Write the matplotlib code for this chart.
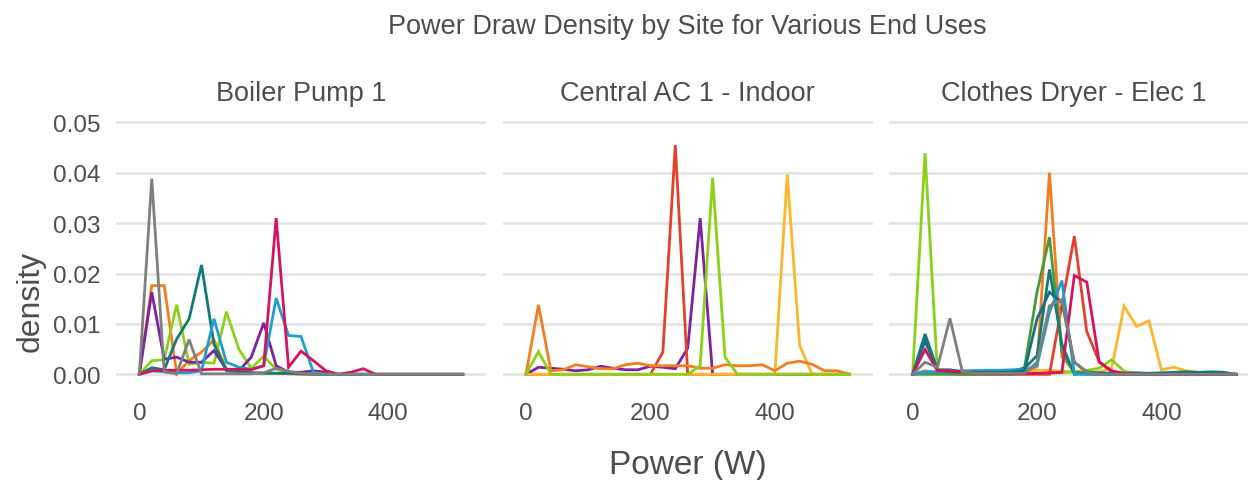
import numpy as np
import matplotlib
matplotlib.use("Agg")
import matplotlib.pyplot as plt

plt.rcParams['font.family'] = ['Liberation Sans', 'DejaVu Sans']

# power bins (W)
power = list(range(0, 540, 20))

# --- Boiler Pump 1 ---
bp_orange = [0, 0.0176, 0.0176, 0.0001, 0.0027, 0.0044, 0.0068, 0.0010, 0.0005, 0.0003, 0.0003, 0.0002, 0.0001, 0,
             0, 0, 0, 0, 0, 0, 0, 0, 0, 0, 0, 0, 0]
bp_lime = [0, 0.0027, 0.0029, 0.0138, 0.0020, 0.0024, 0.0022, 0.0124, 0.0050, 0.0012, 0.0036, 0.0010, 0.0004, 0.0001,
           0, 0, 0, 0, 0, 0, 0, 0, 0, 0, 0, 0, 0]
bp_purple = [0, 0.0163, 0.0030, 0.0034, 0.0024, 0.0024, 0.0047, 0.0010, 0.0007, 0.0034, 0.0102, 0.0017, 0.0004,
             0.0004, 0.0007, 0.0004, 0, 0, 0, 0, 0, 0, 0, 0, 0, 0, 0]
bp_teal = [0, 0.0013, 0.0009, 0.0070, 0.0110, 0.0217, 0.0060, 0.0007, 0.0005, 0.0003, 0.0002, 0.0002, 0.0002, 0.0001,
           0, 0, 0, 0, 0, 0, 0, 0, 0, 0, 0, 0, 0]
bp_blue = [0, 0.0007, 0.0005, 0.0003, 0.0003, 0.0007, 0.0110, 0.0024, 0.0014, 0.0010, 0.0017, 0.0151, 0.0077, 0.0075,
           0.0004, 0, 0, 0, 0, 0, 0, 0, 0, 0, 0, 0, 0]
bp_crimson = [0, 0.0007, 0.0008, 0.0008, 0.0008, 0.0009, 0.0010, 0.0010, 0.0010, 0.0009, 0.0017, 0.0310, 0.0014,
              0.0046, 0.0027, 0.0007, 0, 0.0004, 0.0011, 0, 0, 0, 0, 0, 0, 0, 0]
bp_gray = [0, 0.0388, 0.0005, 0.0001, 0.0069, 0.0001, 0.0001, 0.0001, 0.0001, 0.0001, 0.0003, 0.0012, 0.0006, 0.0002,
           0.0001, 0.0001, 0, 0, 0, 0, 0, 0, 0, 0, 0, 0, 0]

# --- Central AC 1 - Indoor ---
ac_purple = [0, 0.0014, 0.0012, 0.0010, 0.0007, 0.0009, 0.0016, 0.0012, 0.0009, 0.0009, 0.0016, 0.0014, 0.0011,
             0.0052, 0.0310, 0, 0, 0, 0, 0, 0, 0, 0, 0, 0, 0, 0]
ac_red = [0, 0, 0, 0, 0, 0, 0, 0, 0, 0, 0, 0.0044, 0.0455, 0, 0, 0, 0, 0, 0, 0, 0, 0, 0, 0, 0, 0, 0]
ac_amber = [0, 0, 0, 0, 0, 0, 0, 0, 0, 0, 0, 0, 0, 0, 0, 0, 0, 0, 0, 0, 0, 0.0396, 0.0057, 0, 0, 0, 0]
ac_orange = [0, 0.0138, 0.0007, 0.0009, 0.0019, 0.0015, 0.0011, 0.0011, 0.0019, 0.0022, 0.0017, 0.0017, 0.0017,
             0.0017, 0.0012, 0.0012, 0.0019, 0.0017, 0.0017, 0.0019, 0.0007, 0.0022, 0.0026, 0.0020, 0.0007,
             0.0007, 0]
ac_green = [0, 0.0045, 0, 0, 0, 0, 0, 0, 0, 0, 0, 0, 0, 0, 0.0017, 0.0390, 0.0034, 0, 0, 0, 0, 0, 0, 0, 0, 0, 0]

# --- Clothes Dryer - Elec 1 ---
cd_amber = [0, 0.0004, 0.0004, 0.0003, 0.0004, 0.0004, 0.0006, 0.0007, 0.0008, 0.0006, 0.0008, 0.0008, 0.0006,
            0.0005, 0.0004, 0.0005, 0.0012, 0.0135, 0.0095, 0.0106, 0.0009, 0.0014, 0.0007, 0.0003, 0.0002,
            0.0001, 0]
cd_lime = [0, 0.0439, 0.0003, 0.0002, 0.0002, 0.0002, 0.0002, 0.0002, 0.0002, 0.0002, 0.0002, 0.0002, 0.0003,
           0.0005, 0.0008, 0.0012, 0.0029, 0.0006, 0.0002, 0, 0, 0, 0, 0, 0, 0, 0]
cd_red = [0, 0.0003, 0.0002, 0.0001, 0, 0, 0, 0, 0, 0, 0, 0, 0.0137, 0.0274, 0.0085, 0.0025, 0.0005, 0, 0, 0, 0, 0,
          0, 0, 0, 0, 0]
cd_orange = [0, 0.0007, 0.0003, 0.0002, 0.0002, 0.0002, 0.0003, 0.0003, 0.0003, 0.0004, 0.0015, 0.0400, 0.0035,
             0.0005, 0.0002, 0, 0, 0, 0, 0, 0, 0, 0, 0, 0, 0, 0]
cd_green = [0, 0, 0, 0, 0, 0, 0, 0, 0, 0.0014, 0.0163, 0.0272, 0.0044, 0.0004, 0, 0, 0, 0, 0, 0, 0, 0, 0, 0, 0,
            0, 0]
cd_teal = [0, 0.0080, 0.0009, 0.0009, 0.0005, 0.0007, 0.0005, 0.0007, 0.0007, 0.0012, 0.0037, 0.0208, 0.0060, 0,
           0.0003, 0.0003, 0.0002, 0.0002, 0.0003, 0.0002, 0.0003, 0.0004, 0.0005, 0.0004, 0.0005, 0.0004, 0]
cd_blue = [0, 0.0005, 0.0005, 0.0006, 0.0007, 0.0007, 0.0008, 0.0008, 0.0009, 0.0009, 0.0017, 0.0123, 0.0186, 0, 0,
           0, 0, 0, 0, 0, 0, 0, 0, 0, 0, 0, 0]
cd_darkteal = [0, 0.0066, 0.0008, 0.0005, 0.0004, 0.0004, 0.0004, 0.0004, 0.0005, 0.0007, 0.0110, 0.0163, 0.0143,
               0.0024, 0.0005, 0.0002, 0, 0, 0, 0, 0, 0, 0, 0, 0, 0, 0]
cd_crimson = [0, 0.0049, 0.0007, 0.0007, 0.0005, 0.0002, 0.0002, 0.0001, 0.0001, 0.0001, 0.0002, 0.0003, 0.0004,
              0.0196, 0.0183, 0.0024, 0.0007, 0.0002, 0, 0, 0, 0, 0, 0, 0, 0, 0]
cd_gray = [0, 0.0024, 0.0014, 0.0111, 0.0005, 0.0002, 0.0002, 0.0002, 0.0002, 0.0002, 0.0024, 0.0136, 0.0148, 0.0024,
           0.0004, 0, 0, 0, 0, 0, 0, 0, 0, 0, 0, 0, 0]

GRAY = '#7f7f7f'
ORANGE = '#f47d20'
PURPLE = '#7e22a0'
LIME = '#8cd119'
TEAL = '#137b75'
BLUE = '#1d9fcf'
CRIMSON = '#d5135f'
RED = '#e6402c'
AMBER = '#fbb72a'
GREEN = '#4a9a3c'
DARKTEAL = '#1b6f84'

panels = [
    ('Boiler Pump 1', [(bp_orange, ORANGE), (bp_lime, LIME), (bp_purple, PURPLE), (bp_teal, TEAL),
                       (bp_blue, BLUE), (bp_crimson, CRIMSON), (bp_gray, GRAY)]),
    ('Central AC 1 - Indoor', [(ac_purple, PURPLE), (ac_red, RED), (ac_amber, AMBER), (ac_orange, ORANGE),
                               (ac_green, LIME)]),
    ('Clothes Dryer - Elec 1', [(cd_amber, AMBER), (cd_lime, LIME), (cd_red, RED), (cd_orange, ORANGE),
                                (cd_green, GREEN), (cd_teal, TEAL), (cd_blue, BLUE), (cd_darkteal, DARKTEAL),
                                (cd_crimson, CRIMSON), (cd_gray, GRAY)]),
]

W, H = 1248, 481
fig = plt.figure(figsize=(W / 100, H / 100), dpi=100)
txt = '#4d4d4d'

lefts = [116, 502.7, 889.3]
ax_w = 370
ax_top, ax_bot = 120.8, 387.9

for k, (name, series) in enumerate(panels):
    ax = fig.add_axes([lefts[k] / W, 1 - ax_bot / H, ax_w / W, (ax_bot - ax_top) / H])
    for vals, col in series:
        ax.plot(power, vals, color=col, linewidth=2.0, solid_joinstyle='miter')
    ax.set_xlim(-37.5, 557.4)
    ax.set_ylim(-0.0025, 0.0505)
    ax.set_yticks([0, 0.01, 0.02, 0.03, 0.04, 0.05])
    ax.set_xticks([0, 200, 400])
    ax.grid(axis='y', color='#e3e3e3', linewidth=1.9)
    ax.set_axisbelow(True)
    for s in ax.spines.values():
        s.set_visible(False)
    ax.tick_params(length=0, labelsize=17.5, labelcolor=txt, pad=11)
    if k == 0:
        ax.set_yticklabels(['0.00', '0.01', '0.02', '0.03', '0.04', '0.05'])
    else:
        ax.set_yticklabels([])
    fig.text((lefts[k] + ax_w / 2) / W, 1 - 101 / H, name, ha='center', va='baseline',
             fontsize=19.5, color=txt)

fig.text(687.5 / W, 1 - 34.3 / H, 'Power Draw Density by Site for Various End Uses',
         ha='center', va='baseline', fontsize=19.5, color=txt)
fig.text(687.7 / W, 1 - 474.5 / H, 'Power (W)', ha='center', va='baseline', fontsize=24, color=txt)
fig.text(31 / W, 1 - 251 / H, 'density', ha='right', va='center', rotation=90,
         rotation_mode='anchor', fontsize=23, color=txt)

fig.savefig('out.png', dpi=100)
